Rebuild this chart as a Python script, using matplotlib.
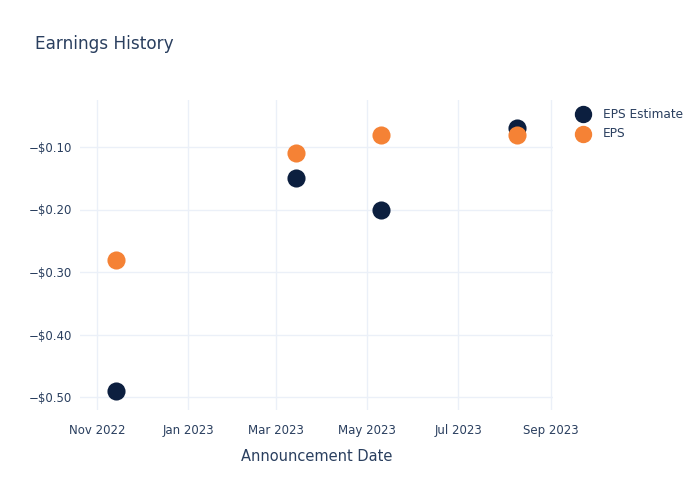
import matplotlib
matplotlib.use("Agg")
import matplotlib.pyplot as plt
import matplotlib.dates as mdates
from matplotlib.lines import Line2D
import pandas as pd

dates = pd.to_datetime(["2022-11-14", "2023-03-14", "2023-05-10", "2023-08-09"])
eps_estimate = [-0.49, -0.15, -0.20, -0.07]
eps_actual = [-0.28, -0.11, -0.08, -0.08]
y_ticks = [-0.10, -0.20, -0.30, -0.40, -0.50]
series_names = ["EPS Estimate", "EPS"]

navy = "#0c1f3f"
orange = "#f58235"
text_col = "#2a3f5f"
grid_col = "#ebf0f8"

fig = plt.figure(figsize=(7, 5), dpi=100)
ax = fig.add_axes([80 / 700, 90 / 500, 473 / 700, 310 / 500])

ax.scatter(dates, eps_estimate, s=170, color=navy, zorder=3, linewidths=0)
ax.scatter(dates, eps_actual, s=170, color=orange, zorder=4, linewidths=0)

ax.set_xlim(pd.Timestamp("2022-10-20 14:00"), pd.Timestamp("2023-09-02 08:00"))
ax.set_ylim(-0.5208, -0.0248)

ax.xaxis.set_major_locator(mdates.MonthLocator(bymonth=[1, 3, 5, 7, 9, 11]))
ax.xaxis.set_major_formatter(mdates.DateFormatter("%b %Y"))
ax.set_yticks(y_ticks)
ax.set_yticklabels(["\u2212$%.2f" % abs(v) for v in y_ticks])

ax.grid(True, color=grid_col, linewidth=1)
ax.set_axisbelow(True)
for s in ax.spines.values():
    s.set_visible(False)
ax.tick_params(length=0, labelsize=8.5, labelcolor=text_col)
ax.tick_params(axis="x", pad=10)
ax.tick_params(axis="y", pad=6)

ax.set_xlabel("Announcement Date", fontsize=10.5, color=text_col, labelpad=9)
fig.text(35 / 700, 1 - 44 / 500, "Earnings History", fontsize=12.2, color=text_col, va="center")

# legend drawn by hand so it sits where plotly puts it
for i, (name, col) in enumerate(zip(series_names, [navy, orange])):
    yy = 1 - (114 + 19.5 * i) / 500
    fig.add_artist(Line2D([583 / 700], [yy], marker="o", markersize=11.5, color=col,
                          linestyle="", transform=fig.transFigure))
    fig.text(603 / 700, yy, name, fontsize=8.7, color=text_col, va="center")

fig.savefig("out.png", dpi=100)
